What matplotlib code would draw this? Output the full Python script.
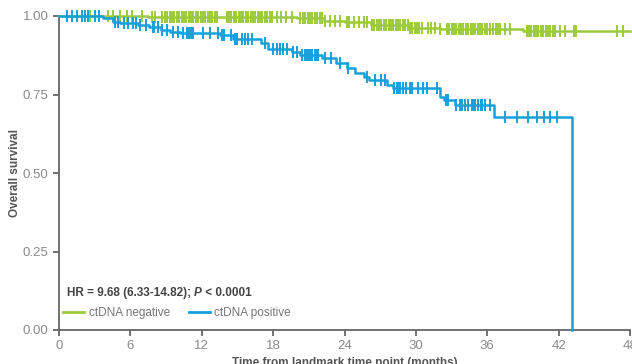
import numpy as np
import matplotlib
matplotlib.use("Agg")
import matplotlib.pyplot as plt
from matplotlib.lines import Line2D

# ---- data ----
neg_event_t = [0, 7.5, 20.0, 22.3, 24.0, 26.2, 29.5, 32.0, 39.0, 48.0]
neg_surv = [1.0, 0.997, 0.993, 0.985, 0.980, 0.972, 0.963, 0.960, 0.953, 0.953]
neg_censor = [2.4, 2.6, 4.1, 4.5, 5.1, 5.7, 6.1, 7.0, 7.8, 8.1,
              8.7, 8.9, 9.1, 9.3, 9.5, 9.7, 9.9, 10.1, 10.3, 10.5, 10.7, 10.9, 11.1,
              11.3, 11.5, 11.7, 11.9, 12.1, 12.3, 12.5, 12.7, 12.9, 13.1, 13.3,
              14.1, 14.3, 14.5, 14.7, 14.9, 15.1, 15.3, 15.5, 15.7, 15.9, 16.1, 16.3,
              16.5, 16.7, 16.9, 17.1, 17.3, 17.5, 17.7, 17.9, 18.3, 18.7, 19.1, 19.6,
              20.3, 20.5, 20.7, 20.9, 21.1, 21.3, 21.5, 21.7, 21.9, 22.1,
              22.4, 22.8, 23.2, 23.6, 24.2, 24.4, 24.8, 25.2, 25.6, 25.9,
              26.3, 26.5, 26.7, 26.9, 27.1, 27.3, 27.5, 27.7, 27.9, 28.1, 28.3, 28.5,
              28.7, 28.9, 29.1, 29.3, 29.5, 29.7, 29.9, 30.1, 30.3, 30.5,
              31.0, 31.3, 31.6, 32.0, 32.6, 32.8, 33.0, 33.2, 33.4, 33.6, 33.8, 34.0,
              34.2, 34.4, 34.6, 34.8, 35.0, 35.2, 35.4, 35.6, 35.8, 36.0, 36.2,
              36.5, 36.7, 36.9, 37.1, 37.5, 37.9,
              39.3, 39.5, 39.7, 39.9, 40.1, 40.3, 40.5, 40.7, 40.9, 41.1, 41.3, 41.5, 41.7,
              42.1, 42.5, 43.3, 43.5, 46.9, 47.4]

pos_event_t = [0, 3.7, 4.5, 5.1, 6.6, 7.6, 8.6, 9.3, 10.2, 13.5, 14.6, 17.0, 17.6,
               19.6, 20.3, 22.1, 23.3, 24.2, 24.9, 25.6, 26.1, 27.6, 28.1, 32.0,
               32.4, 33.3, 36.6, 43.1]
pos_surv = [1.0, 0.994, 0.982, 0.978, 0.971, 0.965, 0.955, 0.949, 0.946, 0.939, 0.927,
            0.914, 0.895, 0.885, 0.876, 0.866, 0.850, 0.834, 0.818, 0.806, 0.796,
            0.780, 0.770, 0.742, 0.732, 0.717, 0.678, 0.0]
pos_censor = [0.7, 1.1, 1.5, 1.9, 2.2, 2.4, 3.0, 3.4,
              4.7, 5.0, 5.5, 5.8, 6.2, 6.5, 6.8, 7.3, 7.9, 8.0, 8.3,
              8.7, 9.1, 9.6, 10.0, 10.4, 10.8, 10.9, 11.0, 11.2, 11.3, 12.1, 12.7,
              13.4, 13.7, 13.9, 14.5, 14.8, 15.0, 15.4, 15.6, 15.9, 16.2, 17.3,
              18.0, 18.3, 18.6, 18.8, 19.2, 19.7, 20.0, 20.4, 20.7, 20.8, 20.9, 21.1,
              21.3, 21.5, 21.7, 21.8, 22.4, 22.9, 23.6, 24.3, 25.9,
              26.6, 27.1, 27.4, 28.2, 28.4, 28.5, 28.7, 28.9, 29.2, 29.5, 29.7, 30.2,
              30.6, 30.9, 31.8, 32.5, 32.7, 33.4, 33.7, 33.9, 34.1, 34.4, 34.7, 34.8,
              35.0, 35.2, 35.5, 35.6, 35.8, 36.2,
              37.5, 38.5, 39.4, 40.2, 40.8, 41.3, 41.9]

x_ticks = [0, 6, 12, 18, 24, 30, 36, 42, 48]
y_ticks = [0.0, 0.25, 0.50, 0.75, 1.00]

GREEN = "#9BCB3C"
BLUE = "#16A0DB"

plt.rcParams['font.family'] = ['Liberation Sans', 'DejaVu Sans']

fig = plt.figure(figsize=(6.32, 3.64), dpi=100)
ax = fig.add_axes([59/632, 1 - 330/364, (630 - 59)/632, (330 - 16)/364])


def surv_at(ev_t, ev_s, t):
    idx = np.searchsorted(ev_t, t, side='right') - 1
    return np.asarray(ev_s)[idx]


ax.step(neg_event_t, neg_surv, where='post', color=GREEN, lw=1.8, clip_on=False, zorder=3)
ax.plot(neg_censor, surv_at(neg_event_t, neg_surv, neg_censor), ls='none', marker='|',
        ms=8.5, mew=1.4, color=GREEN, clip_on=False, zorder=3)
ax.step(pos_event_t, pos_surv, where='post', color=BLUE, lw=1.8, clip_on=False, zorder=4)
ax.plot(pos_censor, surv_at(pos_event_t, pos_surv, pos_censor), ls='none', marker='|',
        ms=8.5, mew=1.4, color=BLUE, clip_on=False, zorder=4)

ax.set_xlim(0, 48)
ax.set_ylim(0, 1)
ax.set_xticks(x_ticks)
ax.set_yticks(y_ticks)
ax.set_yticklabels([f"{v:.2f}" for v in y_ticks])
for s in ['top', 'right']:
    ax.spines[s].set_visible(False)
for s in ['left', 'bottom']:
    ax.spines[s].set_color('#666666')
    ax.spines[s].set_linewidth(1.3)
ax.tick_params(axis='both', colors='#666666', labelcolor='#8a8a8a', labelsize=9.5,
               length=4, width=1.3)
ax.tick_params(axis='x', pad=3)

ax.set_xlabel("Time from landmark time point (months)", fontsize=8.5, fontweight='bold',
              color='#555555', labelpad=4)
ax.set_ylabel("Overall survival", fontsize=8.5, fontweight='bold', color='#555555',
              labelpad=1)

t1 = ax.text(0.014, 0.118, "HR = 9.68 (6.33-14.82); ", transform=ax.transAxes,
             fontsize=8.5, fontweight='bold', color='#444444', va='center', ha='left')
t2 = ax.annotate("P", xy=(1, 0), xycoords=t1, va='bottom', ha='left', fontsize=8.5,
                 fontweight='bold', fontstyle='italic', color='#444444')
t3 = ax.annotate(" < 0.0001", xy=(1, 0), xycoords=t2, va='bottom', ha='left',
                 fontsize=8.5, fontweight='bold', color='#444444')

handles = [Line2D([], [], color=GREEN, lw=2), Line2D([], [], color=BLUE, lw=2)]
leg = ax.legend(handles, ["ctDNA negative", "ctDNA positive"], loc='center left',
                bbox_to_anchor=(0.0, 0.054), ncol=2, frameon=False, fontsize=8.5,
                handlelength=1.8, handletextpad=0.4, columnspacing=1.6,
                borderaxespad=0.0, borderpad=0.3)
for t in leg.get_texts():
    t.set_color('#777777')

fig.savefig("out.png", dpi=100)
